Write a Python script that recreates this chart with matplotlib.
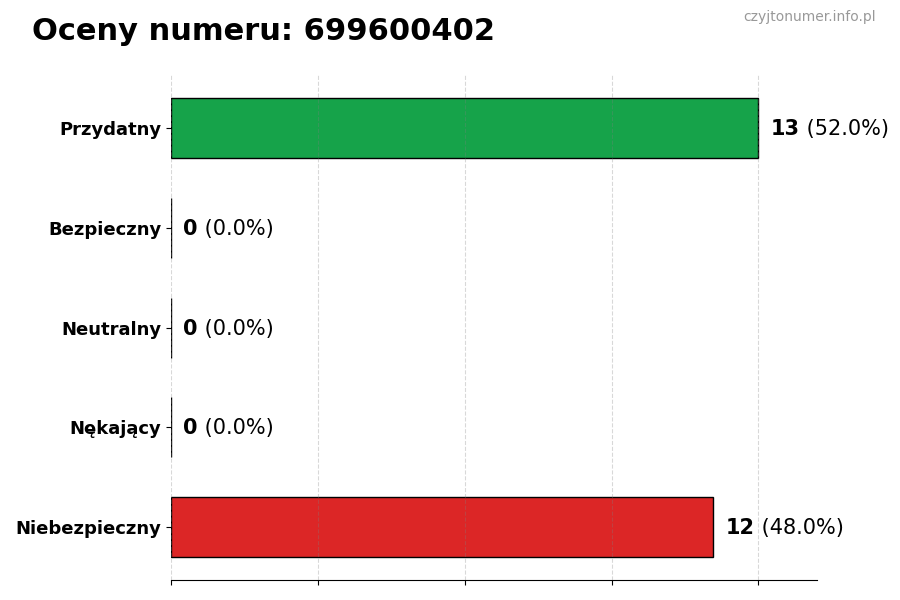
import matplotlib
matplotlib.use("Agg")
import matplotlib.pyplot as plt

categories = ["Przydatny", "Bezpieczny", "Neutralny", "Nękający", "Niebezpieczny"]
counts = [13, 0, 0, 0, 12]
colors = ["#16a34a", "#9ca3af", "#6b7280", "#f59e0b", "#dc2626"]
phone = "699600402"

total = sum(counts)
max_val = max(counts)

fig = plt.figure(figsize=(9, 6), dpi=100)
ax = fig.add_axes([0.19, 0.033, 0.718, 0.842])

y = list(range(len(categories)))
ax.barh(y, counts, height=0.6, color=colors, edgecolor="black", linewidth=1, zorder=2)
ax.invert_yaxis()
ax.set_yticks(y)
ax.set_yticklabels(categories, fontsize=13, fontweight="bold")
ax.set_xlim(0, max_val * 1.1)
ax.set_xticks([max_val * i / 4 for i in range(5)])
ax.set_xticklabels([])
ax.grid(axis="x", linestyle="--", color="gray", alpha=0.3, linewidth=0.8, zorder=3)
ax.set_axisbelow(False)
for s in ["top", "right", "left"]:
    ax.spines[s].set_visible(False)

for i, v in enumerate(counts):
    pct = v / total * 100
    t = ax.text(v + max_val * 0.021, i + 0.01, str(v), fontsize=15, fontweight="bold",
                va="center", ha="left")
    ax.annotate(f" ({pct:.1f}%)", xy=(1, 0.5), xycoords=t, va="center", ha="left",
                fontsize=15)

fig.text(0.035, 0.948, f"Oceny numeru: {phone}", fontsize=22, fontweight="bold",
         ha="left", va="center")
fig.text(0.973, 0.971, "czyjtonumer.info.pl", fontsize=10, color="#999999",
         ha="right", va="center")

fig.savefig("out.png", dpi=100)
